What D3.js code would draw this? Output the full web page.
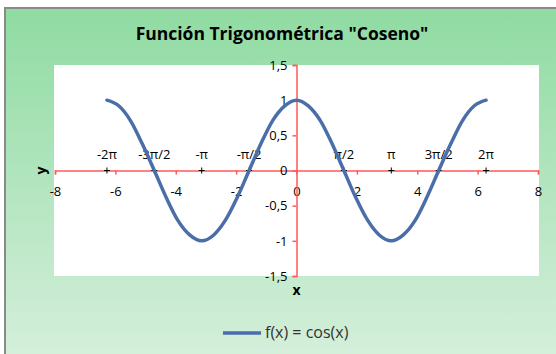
<!DOCTYPE html>
<html>
<head>
<meta charset="utf-8">
<script src="https://cdn.jsdelivr.net/npm/d3@7"></script>
<style>
  body { margin: 0; background: #fff; }
  svg text { font-family: "Open Sans", sans-serif; }
</style>
</head>
<body>
<div id="chart-area"></div>
<script>
// Curve points
var xs = [-6.28, -5.89, -5.50, -5.11, -4.71, -4.32, -3.93, -3.53, -3.14, -2.75, -2.36, -1.96, -1.57, -1.18, -0.79, -0.39,
  0, 0.39, 0.79, 1.18, 1.57, 1.96, 2.36, 2.75, 3.14, 3.53, 3.93, 4.32, 4.71, 5.11, 5.50, 5.89, 6.28];
var ys = [1, 0.92, 0.71, 0.38, 0, -0.38, -0.71, -0.92, -1, -0.92, -0.71, -0.38, 0, 0.38, 0.71, 0.92,
  1, 0.92, 0.71, 0.38, 0, -0.38, -0.71, -0.92, -1, -0.92, -0.71, -0.38, 0, 0.38, 0.71, 0.92, 1];

// Pi marks on the x axis
var piX = [-6.28, -4.71, -3.14, -1.57, 1.57, 3.14, 4.71, 6.28];
var piLabels = ["-2π", "-3π/2", "-π", "-π/2", "π/2", "π", "3π/2", "2π"];

// Tick values
var xTicks = [-8, -6, -4, -2, 0, 2, 4, 6, 8];
var yTicks = [-1.5, -1, -0.5, 0, 0.5, 1, 1.5];

var title = "Función Trigonométrica \"Coseno\"";
var seriesName = "f(x) = cos(x)";

var W = 556, H = 354;
var plot = { left: 54, right: 539, top: 65, bottom: 276 };

var svg = d3.select("#chart-area")
  .append("svg")
  .attr("width", W)
  .attr("height", H);

// background gradient
var grad = svg.append("defs").append("linearGradient")
  .attr("id", "bg")
  .attr("x1", 0).attr("y1", 0).attr("x2", 0).attr("y2", 1);
grad.append("stop").attr("offset", "0%").attr("stop-color", "#8fdba2");
grad.append("stop").attr("offset", "100%").attr("stop-color", "#dff2e3");

svg.append("rect")
  .attr("x", 5)
  .attr("y", 8)
  .attr("width", 600)
  .attr("height", 400)
  .attr("fill", "url(#bg)")
  .attr("stroke", "#8a8a8a")
  .attr("stroke-width", 2);

// plot area
svg.append("rect")
  .attr("x", plot.left)
  .attr("y", plot.top)
  .attr("width", plot.right - plot.left)
  .attr("height", plot.bottom - plot.top)
  .attr("fill", "#fff");

// Title
svg.append("text")
  .attr("x", 282)
  .attr("y", 40)
  .attr("text-anchor", "middle")
  .attr("font-size", "17.5px")
  .attr("font-weight", "bold")
  .attr("fill", "#000")
  .text(title);

// Scales
var x = d3.scaleLinear().domain([-8, 8]).range([55, 538]);
var y = d3.scaleLinear().domain([-1.5, 1.5]).range([plot.bottom, plot.top]);

// X axis through y=0
var xAxis = d3.axisBottom(x)
  .tickValues(xTicks)
  .tickSize(4)
  .tickPadding(12)
  .tickFormat(function(d) { return d; });

var gx = svg.append("g")
  .attr("transform", "translate(0," + y(0) + ")")
  .call(xAxis);

// Y axis through x=0
var yAxis = d3.axisLeft(y)
  .tickValues(yTicks)
  .tickSize(4)
  .tickPadding(5)
  .tickFormat(function(d) { return String(d).replace(".", ","); });

var gy = svg.append("g")
  .attr("transform", "translate(" + x(0) + ",0)")
  .call(yAxis);

[gx, gy].forEach(function(g) {
  g.select(".domain").attr("stroke", "#ff5a5a").attr("stroke-width", 1.5);
  g.selectAll(".tick line").attr("stroke", "#ff5a5a").attr("stroke-width", 1.5);
  g.selectAll(".tick text")
    .attr("font-size", "13px")
    .attr("fill", "#000")
    .style("font-family", "'Open Sans', sans-serif");
});

// Pi markers (+) and labels
var pis = svg.append("g");
pis.selectAll("path")
  .data(piX)
  .enter()
  .append("path")
  .attr("d", function(d) {
    var cx = x(d), cy = y(0);
    return "M" + (cx - 3) + "," + cy + "H" + (cx + 3) + "M" + cx + "," + (cy - 3) + "V" + (cy + 3);
  })
  .attr("stroke", "#000")
  .attr("stroke-width", 1);

pis.selectAll("text")
  .data(piX)
  .enter()
  .append("text")
  .attr("x", function(d) { return x(d); })
  .attr("y", y(0) - 12)
  .attr("text-anchor", "middle")
  .attr("font-size", "13px")
  .attr("fill", "#000")
  .text(function(d, i) { return piLabels[i]; });

// Cosine line
var line = d3.line()
  .x(function(d, i) { return x(xs[i]); })
  .y(function(d) { return y(d); })
  .curve(d3.curveMonotoneX);

svg.append("path")
  .datum(ys)
  .attr("d", line)
  .attr("fill", "none")
  .attr("stroke", "#4a6ea8")
  .attr("stroke-width", 3.5)
  .attr("stroke-linecap", "round");

// Axis titles
svg.append("text")
  .attr("x", x(0))
  .attr("y", 295)
  .attr("text-anchor", "middle")
  .attr("font-size", "14px")
  .attr("font-weight", "bold")
  .text("x");

svg.append("text")
  .attr("transform", "translate(46," + y(0) + ") rotate(-90)")
  .attr("text-anchor", "middle")
  .attr("font-size", "14px")
  .attr("font-weight", "bold")
  .text("y");

// Legend
svg.append("line")
  .attr("x1", 223)
  .attr("x2", 261)
  .attr("y1", 333)
  .attr("y2", 333)
  .attr("stroke", "#4a6ea8")
  .attr("stroke-width", 3.5);

svg.append("text")
  .attr("x", 265)
  .attr("y", 338)
  .attr("font-size", "16px")
  .attr("fill", "#333")
  .text(seriesName);
</script>
</body>
</html>
